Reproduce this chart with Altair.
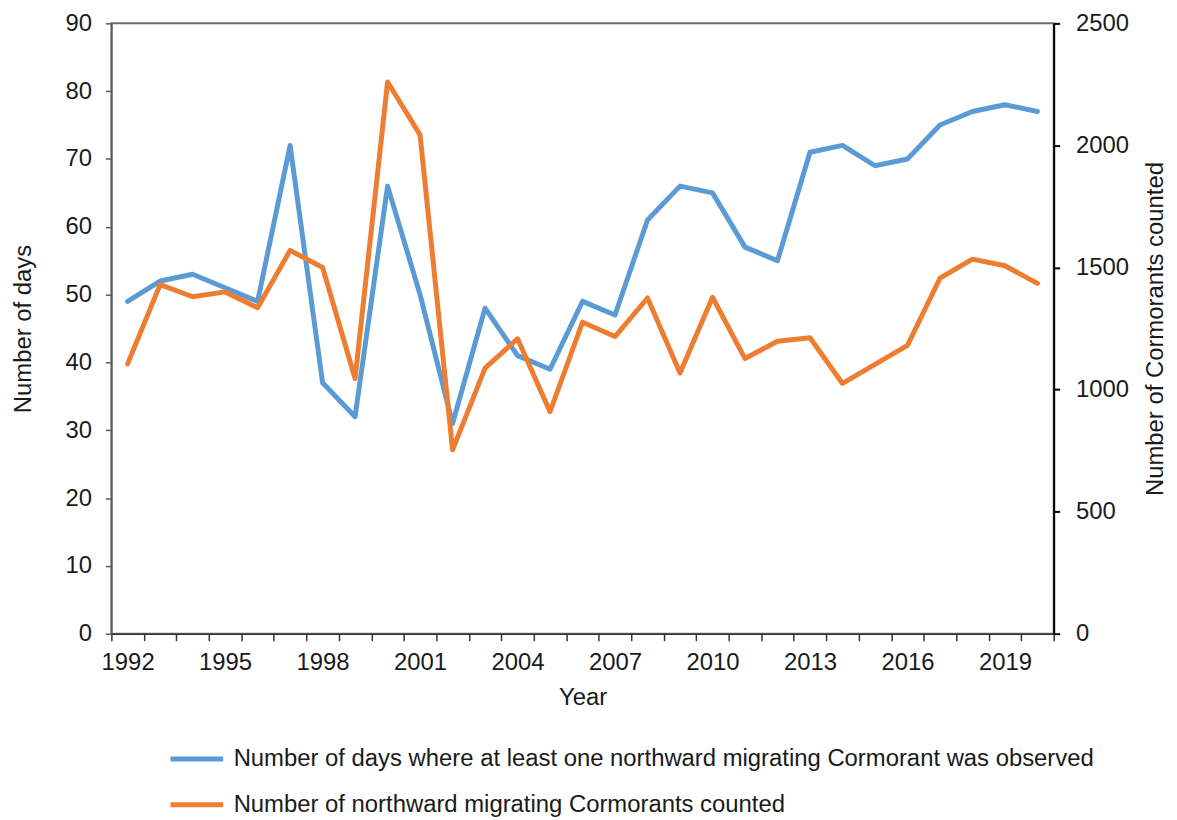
import altair as alt
import pandas as pd

years = list(range(1992, 2021))
days = [49, 52, 53, 51, 49, 72, 37, 32, 66, 50, 31, 48, 41, 39, 49,
        47, 61, 66, 65, 57, 55, 71, 72, 69, 70, 75, 77, 78, 77]
counts = [1105, 1430, 1380, 1400, 1335, 1570, 1500, 1045, 2260, 2043, 753, 1088, 1208, 909, 1276,
          1217, 1375, 1068, 1378, 1127, 1198, 1212, 1025, 1103, 1181, 1456, 1534, 1507, 1435]
series_names = [
    "Number of days where at least one northward migrating Cormorant was observed",
    "Number of northward migrating Cormorants counted",
]
series_colors = ["#5B9BD5", "#ED7D31"]
left_ticks = list(range(0, 91, 10))
right_ticks = list(range(0, 2501, 500))
year_labels = [1992, 1995, 1998, 2001, 2004, 2007, 2010, 2013, 2016, 2019]

df = pd.DataFrame({
    "Year": years + years,
    "Value": days + counts,
    "Series": [series_names[0]] * len(years) + [series_names[1]] * len(years),
})

boundaries = [y - 0.5 for y in years] + [years[-1] + 0.5]
label_list = "[" + ",".join(str(v) for v in year_labels) + "]"
label_expr = f"indexof({label_list}, datum.value + 0.5) >= 0 ? format(datum.value + 0.5, 'd') : ''"

FONT = "Liberation Sans"

color = alt.Color(
    "Series:N",
    scale=alt.Scale(domain=series_names, range=series_colors),
    legend=alt.Legend(
        title=None,
        orient="none",
        legendX=57,
        legendY=711,
        direction="vertical",
        symbolType="stroke",
        symbolSize=2809,
        symbolStrokeWidth=5,
        labelFontSize=24,
        labelFont=FONT,
        labelColor="#1a1a1a",
        labelOffset=8,
        rowPadding=5,
        labelLimit=1000,
    ),
)

x = alt.X(
    "Year:Q",
    scale=alt.Scale(domain=[1991.5, 2020.5], nice=False, zero=False),
    axis=alt.Axis(
        title="Year",
        values=boundaries,
        labelExpr=label_expr,
        labelOffset=16.34,
        labelFlush=False,
        labelOverlap=False,
        labelBound=False,
        grid=False,
        tickSize=7,
        labelPadding=10,
        titlePadding=11,
        domainColor="#333333",
        tickColor="#333333",
        domainWidth=1.5,
        tickWidth=1.5,
    ),
)

base = alt.Chart(df)

line_style = dict(strokeWidth=5, strokeCap="round", strokeJoin="round")

days_layer = base.transform_filter(
    alt.datum.Series == series_names[0]
).mark_line(**line_style).encode(
    x=x,
    y=alt.Y(
        "Value:Q",
        scale=alt.Scale(domain=[0, 90], nice=False),
        axis=alt.Axis(
            title="Number of days",
            orient="left",
            values=left_ticks,
            grid=False,
            tickSize=6,
            labelPadding=14,
            titlePadding=30,
            domainColor="#595959",
            tickColor="#595959",
            domainWidth=1.5,
            tickWidth=1.5,
        ),
    ),
    color=color,
)

count_layer = base.transform_filter(
    alt.datum.Series == series_names[1]
).mark_line(**line_style).encode(
    x=x,
    y=alt.Y(
        "Value:Q",
        scale=alt.Scale(domain=[0, 2500], nice=False),
        axis=alt.Axis(
            title="Number of Cormorants counted",
            orient="right",
            values=right_ticks,
            format="d",
            grid=False,
            tickSize=6,
            labelPadding=16,
            titlePadding=15,
            titleAngle=270,
            titleBaseline="top",
            domainColor="#000000",
            tickColor="#000000",
            domainWidth=2,
            tickWidth=2,
        ),
    ),
    color=color,
)

chart = alt.layer(days_layer, count_layer).resolve_scale(
    y="independent"
).properties(
    width=948,
    height=614,
    autosize=alt.AutoSizeParams(type="none"),
    padding={"left": 104, "top": 13, "right": 116, "bottom": 184},
).configure(
    font=FONT,
).configure_axis(
    labelFont=FONT,
    titleFont=FONT,
    labelFontSize=24,
    titleFontSize=24,
    titleFontWeight="normal",
    labelColor="#1a1a1a",
    titleColor="#1a1a1a",
).configure_view(
    stroke="#6e6e6e",
    strokeWidth=2,
)

chart.save("out.html", embed_options={"renderer": "svg", "actions": False})
